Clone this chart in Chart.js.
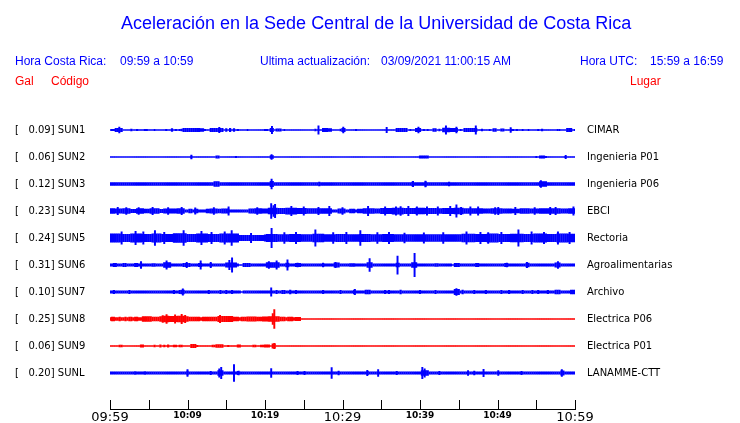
<!DOCTYPE html>
<html><head><meta charset="utf-8">
<script src="https://cdn.jsdelivr.net/npm/chart.js@4/dist/chart.umd.min.js"></script>
<style>
html,body{margin:0;padding:0;background:#fff;}
#wrap{position:relative;width:740px;height:423px;overflow:hidden;background:#fff;}
#c{position:absolute;left:0;top:0;}
.t{position:absolute;white-space:pre;font-family:"Liberation Sans",Arial,sans-serif;font-size:12px;line-height:12px;}
.b{color:#0000ff;} .r{color:#ff0000;}
</style></head>
<body><div id="wrap">
<canvas id="c" width="740" height="423"></canvas>
<div class="t b" style="left:121px;top:14px;font-size:18px;line-height:18px;">Aceleración en la Sede Central de la Universidad de Costa Rica</div>
<div class="t b" style="left:15px;top:55px;">Hora Costa Rica:</div>
<div class="t b" style="left:120px;top:55px;">09:59 a 10:59</div>
<div class="t b" style="left:260px;top:55px;">Ultima actualización:</div>
<div class="t b" style="left:381px;top:55px;">03/09/2021 11:00:15 AM</div>
<div class="t b" style="left:580px;top:55px;">Hora UTC:</div>
<div class="t b" style="left:650px;top:55px;">15:59 a 16:59</div>
<div class="t r" style="left:15px;top:75px;">Gal</div>
<div class="t r" style="left:51px;top:75px;">Código</div>
<div class="t r" style="left:630px;top:75px;">Lugar</div>
</div>
<script>
// ---------------- data ----------------
const stations = ['SUN1','SUN2','SUN3','SUN4','SUN5','SUN6','SUN7','SUN8','SUN9','SUNL'];
const peakGal  = ['0.09','0.06','0.12','0.23','0.24','0.31','0.10','0.25','0.06','0.20'];
const places   = ['CIMAR','Ingenieria P01','Ingenieria P06','EBCI','Rectoria','Agroalimentarias','Archivo','Electrica P06','Electrica P01','LANAMME-CTT'];
const timeTicks = ['09:59','10:09','10:19','10:29','10:39','10:49','10:59']; // every 10 min
const traceColors = ['#0000ff','#0000ff','#0000ff','#0000ff','#0000ff','#0000ff','#0000ff','#ff0000','#ff0000','#0000ff'];

// amplitude envelope (normalised to half the trace spacing): base level [t0,t1,amp], bursts [t0,t1,amp], spikes [t,amp]; t in minutes from 09:59
const sun1Base = [[0,60,0.05]];
const sun1Bursts = [[0.2,0.4,0.08],[0.85,1.5,0.15],[2.8,2.8,0.1],[3.4,3.4,0.08],[4.4,4.4,0.07],[4.7,4.7,0.07],[5.7,5.7,0.08],[7.2,7.2,0.08],[7.9,8.1,0.13],[8.6,8.6,0.08],[8.9,8.9,0.08],[9.2,9.3,0.1],[9.6,9.9,0.15],[10.3,11.4,0.15],[11.8,11.9,0.13],[12.3,12.3,0.08],[12.9,14.4,0.15],[14.9,15.0,0.13],[15.4,15.6,0.15],[15.9,16.0,0.13],[16.5,16.5,0.08],[17.8,17.8,0.08],[19.9,19.9,0.07],[20.3,20.3,0.08],[20.7,21.0,0.15],[21.5,22.1,0.12],[22.4,22.4,0.08],[23.7,23.7,0.06],[24.9,24.9,0.06],[26.5,26.5,0.1],[27.5,27.9,0.15],[28.2,28.6,0.13],[29.8,29.8,0.1],[30.0,30.2,0.15],[31.8,31.8,0.07],[32.6,32.6,0.06],[33.1,33.1,0.06],[35.05,35.05,0.06],[36.9,38.3,0.15],[38.7,38.7,0.07],[39.5,40.1,0.15],[40.5,40.5,0.07],[40.9,40.9,0.07],[41.7,42.0,0.13],[42.4,42.4,0.1],[42.9,43.7,0.17],[43.9,44.4,0.15],[44.6,44.8,0.15],[45.2,45.2,0.07],[45.8,47.3,0.15],[47.9,48.1,0.1],[49.0,49.0,0.07],[49.5,49.8,0.13],[50.4,50.7,0.12],[51.7,51.7,0.1],[51.9,51.9,0.08],[52.6,52.6,0.08],[53.25,53.25,0.07],[53.9,53.9,0.07],[55.2,55.2,0.07],[55.7,55.7,0.1],[57.7,57.7,0.08],[57.9,57.9,0.08],[59.1,59.4,0.15],[59.9,59.9,0.07]];
const sun1Spikes = [[1.2,0.22],[14.1,0.2],[20.9,0.28],[26.9,0.3],[30.1,0.22],[35.7,0.2],[39.8,0.22],[43.35,0.3],[44.7,0.22],[47.2,0.3],[51.7,0.18]];

const sun2Base = [[0,60,0.05]];
const sun2Bursts = [[10.5,10.5,0.1],[13.7,14.1,0.11],[16.3,16.3,0.07],[20.8,20.9,0.13],[40.1,40.3,0.12],[40.6,41.0,0.12],[55.1,55.1,0.07],[55.5,56.0,0.12],[56.2,56.2,0.07],[58.8,58.8,0.08]];
const sun2Spikes = [[10.5,0.15],[20.85,0.18],[58.8,0.13]];

const sun3Base = [[0,60,0.13]];
const sun3Bursts = [[13.5,14.1,0.2],[20.7,21.0,0.22],[27.1,27.1,0.16],[39.1,39.1,0.17],[40.7,40.7,0.19],[43.7,43.7,0.16],[55.5,56.2,0.2]];
const sun3Spikes = [[20.85,0.37],[39.1,0.2],[40.7,0.22],[55.6,0.25]];

const sun4Base = [[0,60,0.12]];
const sun4Bursts = [[0,0.6,0.2],[0.8,1.6,0.18],[1.8,2.5,0.21],[2.8,3.2,0.15],[3.4,4.2,0.2],[4.4,5.0,0.17],[5.2,6.2,0.2],[6.5,6.8,0.14],[7.0,7.8,0.19],[8.0,8.6,0.18],[8.8,9.5,0.2],[10.3,10.6,0.16],[10.9,11.2,0.17],[12.5,12.9,0.16],[13.1,13.8,0.18],[14.0,14.4,0.16],[14.6,15.3,0.19],[17.9,18.5,0.18],[18.7,19.4,0.2],[19.6,20.4,0.19],[20.4,21.6,0.24],[21.8,22.6,0.22],[22.8,24.0,0.25],[24.2,25.2,0.22],[25.4,26.4,0.2],[26.6,27.6,0.2],[27.8,28.6,0.21],[29.6,30.3,0.18],[31.0,31.5,0.16],[32.0,32.6,0.17],[32.8,34.0,0.2],[34.3,35.0,0.18],[35.0,36.2,0.22],[36.4,37.8,0.25],[38.0,39.2,0.23],[39.4,40.6,0.24],[40.8,42.0,0.22],[42.2,42.8,0.2],[43.0,44.2,0.22],[44.4,45.4,0.24],[45.6,46.7,0.21],[46.9,48.0,0.2],[48.2,49.0,0.18],[49.3,50.5,0.2],[50.8,51.8,0.19],[52.0,52.7,0.17],[52.9,54.0,0.2],[54.2,55.4,0.19],[55.6,56.6,0.2],[56.8,58.0,0.21],[58.2,59.0,0.19],[59.2,60,0.2]];
const sun4Spikes = [[1.0,0.27],[2.1,0.25],[3.7,0.26],[5.5,0.27],[7.5,0.25],[9.25,0.28],[11.0,0.24],[13.4,0.25],[15.3,0.3],[19.0,0.26],[20.8,0.55],[21.1,0.4],[21.3,0.5],[23.4,0.35],[25.0,0.3],[26.9,0.28],[28.3,0.35],[30.0,0.26],[33.3,0.35],[35.5,0.3],[36.9,0.3],[37.5,0.32],[38.5,0.35],[39.6,0.3],[40.9,0.3],[42.3,0.3],[43.9,0.35],[44.7,0.45],[45.3,0.28],[46.5,0.3],[47.5,0.3],[49.7,0.26],[50.1,0.28],[52.3,0.27],[54.8,0.25],[56.8,0.28],[57.5,0.27],[59.8,0.3]];

const sun5Base = [[0,16.5,0.27],[16.5,20,0.22],[20,60,0.26]];
const sun5Bursts = [[0,1.2,0.33],[1.4,2.6,0.3],[2.8,4.0,0.34],[4.2,5.4,0.3],[5.6,6.6,0.33],[6.8,8.0,0.3],[8.2,9.8,0.35],[10.0,11.0,0.3],[11.2,12.6,0.33],[12.8,14.0,0.3],[14.2,16.4,0.34],[20.2,21.4,0.3],[21.6,23.0,0.28],[23.2,24.6,0.3],[24.8,26.0,0.28],[26.2,27.4,0.32],[27.6,29.0,0.28],[29.2,30.6,0.3],[30.8,32.0,0.28],[32.2,33.4,0.3],[33.6,35.0,0.28],[35.2,36.6,0.3],[36.8,38.0,0.27],[38.2,39.6,0.28],[39.8,41.2,0.27],[41.4,42.6,0.28],[42.8,44.0,0.27],[44.2,45.4,0.28],[45.6,47.0,0.32],[47.2,48.6,0.3],[48.8,50.0,0.33],[50.2,51.6,0.3],[51.8,53.2,0.32],[53.4,54.6,0.3],[54.8,56.2,0.33],[56.4,57.6,0.3],[57.8,59.0,0.34],[59.2,60,0.32]];
const sun5Spikes = [[1.5,0.45],[3.3,0.5],[4.3,0.45],[5.8,0.55],[7.0,0.42],[9.5,0.55],[11.8,0.5],[13.1,0.42],[14.8,0.45],[15.7,0.55],[18.2,0.35],[20.85,0.72],[22.5,0.4],[24.0,0.42],[26.5,0.6],[28.8,0.4],[30.5,0.42],[32.3,0.55],[34.5,0.4],[36.0,0.42],[38.0,0.36],[40.5,0.38],[43.0,0.4],[46.0,0.45],[47.8,0.42],[48.8,0.4],[50.5,0.42],[52.7,0.6],[54.4,0.45],[56.0,0.42],[57.8,0.45],[59.3,0.42]];

const sun6Base = [[0,16.6,0.11],[16.6,17.2,0.05],[17.2,44,0.11],[44,44.5,0.05],[44.5,60,0.11]];
const sun6Bursts = [[0.5,0.8,0.15],[1.8,2.0,0.14],[3.2,3.4,0.15],[3.9,4.1,0.18],[5.5,5.7,0.13],[6.9,7.7,0.2],[9.5,10.3,0.15],[11.6,11.8,0.15],[12.9,13.1,0.14],[15.0,16.3,0.18],[17.2,18.1,0.15],[20.2,21.7,0.2],[22.8,23.0,0.16],[23.9,24.5,0.14],[27.4,27.6,0.14],[29.0,29.5,0.18],[31.0,31.4,0.13],[33.3,33.8,0.2],[36.9,37.3,0.16],[38.9,39.6,0.2],[42.0,42.3,0.13],[44.6,44.9,0.14],[47.3,47.5,0.14],[51.1,51.3,0.15],[53.7,53.9,0.16],[57.6,58.0,0.18]];
const sun6Spikes = [[4.0,0.26],[7.3,0.3],[9.9,0.2],[11.7,0.3],[13.0,0.2],[15.4,0.35],[15.75,0.53],[20.5,0.25],[21.5,0.3],[22.9,0.38],[24.2,0.15],[27.5,0.15],[29.1,0.2],[33.5,0.48],[37.1,0.67],[39.3,0.87],[51.2,0.15],[53.8,0.2],[57.8,0.25]];

const sun7Base = [[0,16.8,0.12],[16.8,17.2,0.05],[17.2,60,0.12]];
const sun7Bursts = [[0.4,0.4,0.15],[2.4,2.4,0.15],[8.3,8.3,0.15],[8.9,8.9,0.14],[9.3,9.5,0.17],[12.7,12.7,0.15],[14.2,14.2,0.14],[15.0,15.0,0.15],[15.8,15.8,0.14],[21.6,21.6,0.15],[22.2,22.2,0.15],[22.6,22.6,0.15],[23.2,23.2,0.17],[24.1,24.1,0.15],[27.4,27.4,0.14],[29.8,29.8,0.14],[31.6,31.6,0.16],[33.1,33.5,0.17],[35.5,35.5,0.15],[36.0,36.0,0.15],[37.4,37.4,0.17],[39.9,39.9,0.15],[42.1,42.1,0.14],[44.6,45.0,0.22],[45.6,45.6,0.17],[47.1,47.1,0.14],[48.6,48.6,0.14],[50.5,50.5,0.15],[51.4,51.4,0.15],[53.2,53.2,0.14],[54.6,54.6,0.15],[55.3,55.3,0.15],[56.5,56.5,0.14],[57.4,58.1,0.16],[59.4,59.9,0.17]];
const sun7Spikes = [[9.4,0.23],[20.8,0.31],[31.6,0.2],[44.7,0.26]];

const sun8Base = [[0,24.6,0.13],[24.6,60,0.05]];
const sun8Bursts = [[0.2,0.4,0.17],[1.2,1.3,0.16],[1.9,2.1,0.17],[2.6,2.8,0.16],[3.2,3.4,0.17],[4.3,5.2,0.2],[5.3,6.4,0.16],[6.5,7.0,0.2],[7.0,7.6,0.24],[7.8,8.6,0.22],[8.8,9.6,0.24],[9.7,10.1,0.2],[10.3,11.0,0.17],[11.2,11.6,0.16],[11.9,12.6,0.17],[12.8,13.4,0.16],[13.6,14.0,0.17],[14.0,15.7,0.22],[16.0,16.6,0.16],[17.0,17.5,0.17],[17.8,18.8,0.19],[19.0,19.6,0.17],[19.8,20.4,0.18],[20.6,21.8,0.2],[22.0,22.6,0.16],[23.0,23.6,0.16],[23.9,24.5,0.15]];
const sun8Spikes = [[6.8,0.25],[7.3,0.33],[8.4,0.3],[9.25,0.35],[9.7,0.28],[14.2,0.28],[21.0,0.4],[21.2,0.7]];

const sun9Base = [[0,60,0.05]];
const sun9Bursts = [[1.3,1.3,0.1],[1.6,1.6,0.1],[4.1,4.3,0.12],[5.8,5.8,0.1],[6.4,6.4,0.12],[6.9,6.9,0.1],[7.4,7.4,0.12],[8.2,8.2,0.1],[8.6,8.6,0.1],[9.0,9.3,0.1],[10.6,10.9,0.14],[11.2,11.2,0.08],[13.2,13.2,0.1],[13.5,13.5,0.1],[13.8,14.5,0.13],[15.2,15.2,0.07],[16.5,16.8,0.12],[18.4,18.4,0.1],[18.7,18.7,0.1],[19.4,19.4,0.1],[19.7,19.7,0.1],[20.1,20.6,0.12],[21.1,21.3,0.18]];
const sun9Spikes = [[21.2,0.2]];

const sunLBase = [[0,60,0.12]];
const sunLBursts = [[3.2,3.2,0.13],[4.6,4.6,0.13],[10.0,10.1,0.16],[14.0,14.4,0.2],[16.0,16.0,0.15],[16.6,16.6,0.14],[33.2,33.2,0.14],[40.2,40.9,0.2],[58.3,58.4,0.18]];
const sunLSpikes = [[10.0,0.25],[13.0,0.12],[14.1,0.3],[14.35,0.42],[16.0,0.63],[16.6,0.15],[20.8,0.32],[24.2,0.12],[25.1,0.12],[28.6,0.41],[29.5,0.15],[33.2,0.2],[34.6,0.25],[37.0,0.12],[40.3,0.42],[40.6,0.3],[42.5,0.12],[46.2,0.18],[47.0,0.15],[48.2,0.27],[50.1,0.18],[53.1,0.12],[58.3,0.25]];

const traceBase   = [sun1Base,sun2Base,sun3Base,sun4Base,sun5Base,sun6Base,sun7Base,sun8Base,sun9Base,sunLBase];
const traceBursts = [sun1Bursts,sun2Bursts,sun3Bursts,sun4Bursts,sun5Bursts,sun6Bursts,sun7Bursts,sun8Bursts,sun9Bursts,sunLBursts];
const traceSpikes = [sun1Spikes,sun2Spikes,sun3Spikes,sun4Spikes,sun5Spikes,sun6Spikes,sun7Spikes,sun8Spikes,sun9Spikes,sunLSpikes];

// ---------------- build ----------------
const STEP = 0.25, SPAN = 60, HALF = 0.5;
function envelope(base, bursts) {
  const out = [];
  for (let i = 0; i <= SPAN / STEP; i++) {
    const t = i * STEP; let a = 0;
    for (const [t0, t1, v] of base) if (t >= t0 - 1e-9 && t <= t1 + 1e-9) a = Math.max(a, v);
    for (const [t0, t1, v] of bursts) if (t >= t0 - STEP / 2 && t <= t1 + STEP / 2) a = Math.max(a, v);
    out.push(a);
  }
  return out;
}
const datasets = [];
stations.forEach((s, row) => {
  const env = envelope(traceBase[row], traceBursts[row]);
  datasets.push({
    type: 'bar', label: s + ' env', xAxisID: 'x', yAxisID: 'y',
    data: env.map((a, i) => ({ x: i * STEP, y: [row - a * HALF, row + a * HALF] })),
    backgroundColor: traceColors[row], borderWidth: 0, grouped: false,
    barPercentage: 1.15, categoryPercentage: 1
  });
  datasets.push({
    type: 'bar', label: s + ' spikes', xAxisID: 'x2', yAxisID: 'y',
    data: traceSpikes[row].map(([t, a]) => ({ x: t, y: [row - a * HALF, row + a * HALF] })),
    backgroundColor: traceColors[row], borderWidth: 0, grouped: false, barThickness: 1.3
  });
});

const innerTicks = {
  id: 'innerTicks',
  afterDraw(chart) {
    const sx = chart.scales.x, ctx = chart.ctx;
    ctx.save(); ctx.strokeStyle = '#000'; ctx.lineWidth = 1; ctx.beginPath();
    sx.ticks.forEach(t => {
      const px = Math.round(sx.getPixelForValue(t.value)) + 0.5;
      ctx.moveTo(px, sx.top); ctx.lineTo(px, sx.top - 9);
    });
    ctx.stroke(); ctx.restore();
  }
};

const yMax = 9 + 36 / 27;
const rowTicks = s => { s.ticks = stations.map((_, i) => ({ value: i })); };
const noVPad = w => s => { s.width = w; s.paddingTop = 0; s.paddingBottom = 0; };
new Chart(document.getElementById('c'), {
  type: 'bar',
  data: { datasets },
  options: {
    responsive: false, animation: false, events: [],
    layout: { padding: { top: 116.5, left: 15, right: 0, bottom: 0 } },
    plugins: { legend: { display: false }, tooltip: { enabled: false }, title: { display: false } },
    scales: {
      x: {
        type: 'linear', min: 0, max: SPAN, position: 'bottom', offset: false,
        afterBuildTicks: s => { s.ticks = []; for (let v = 0; v <= SPAN; v += 5) s.ticks.push({ value: v }); },
        afterFit: s => { s.height = 14; },
        grid: { display: false, drawTicks: false, offset: false },
        border: { display: true, color: '#000', width: 1 },
        ticks: {
          autoSkip: false, maxRotation: 0, padding: 1, color: '#000',
          callback: v => (v % 10 === 0 ? timeTicks[v / 10] : ''),
          font: ctx => (ctx.tick && ctx.tick.value % 30 === 0)
            ? { family: 'DejaVu Sans', size: 13 }
            : { family: 'DejaVu Sans', size: 9, weight: 'bold' }
        }
      },
      x2: { type: 'linear', min: 0, max: SPAN, display: false, offset: false },
      y: {
        type: 'linear', reverse: true, min: -0.5, max: yMax, position: 'left',
        afterBuildTicks: rowTicks, afterFit: noVPad(95),
        grid: { display: false, drawTicks: false }, border: { display: false },
        ticks: { crossAlign: 'far', color: '#000', font: { family: 'DejaVu Sans', size: 10 },
          callback: (v) => '[   ' + peakGal[v] + '] ' + stations[v] }
      },
      y2: {
        type: 'linear', reverse: true, min: -0.5, max: yMax, position: 'right',
        afterBuildTicks: rowTicks, afterFit: noVPad(165),
        grid: { display: false, drawTicks: false }, border: { display: false },
        ticks: { padding: 12, color: '#000', font: { family: 'DejaVu Sans', size: 10 },
          callback: (v) => places[v] }
      }
    }
  },
  plugins: [innerTicks]
});
</script>
</body></html>
